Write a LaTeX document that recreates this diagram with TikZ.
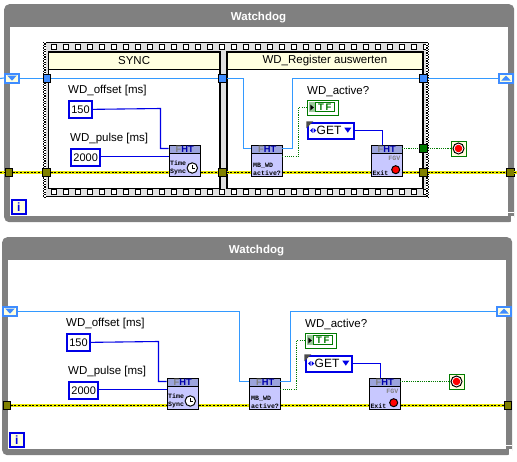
\documentclass[tikz,border=0pt]{standalone}
\usepackage{fontspec}
\setmainfont{Liberation Sans}
\setmonofont{Liberation Mono}
\usetikzlibrary{positioning, calc}
\definecolor{loopgray}{HTML}{808080}
\definecolor{bandgray}{HTML}{E0E0E0}
\definecolor{paleyellow}{HTML}{FFFFE0}
\definecolor{refblue}{HTML}{3399FF}
\definecolor{tunnelblue}{HTML}{3F8CFF}
\definecolor{intblue}{HTML}{0000E6}
\definecolor{boolgreen}{HTML}{007A00}
\definecolor{errolive}{HTML}{808000}
\definecolor{erredge}{HTML}{5A5A00}
\definecolor{erryellow}{HTML}{E8E800}
\definecolor{iconbody}{HTML}{C8C8FF}
\definecolor{iconhead}{HTML}{9CA4DC}
\newcommand{\wdtext}{\fontsize{11.5}{12}\selectfont}

\tikzset{
    looprim/.style   = {rectangle, rounded corners=5pt, fill=loopgray, inner sep=0pt, anchor=north west},
    loopfield/.style = {rectangle, fill=white, inner sep=0pt, anchor=north west},
    looptitle/.style = {font=\fontsize{11.5}{12}\selectfont\bfseries, text=white, inner sep=0pt},
    filmband/.style  = {rectangle, fill=bandgray, inner sep=0pt, anchor=north west},
    filmhole/.style  = {rectangle, draw=black, fill=white, line width=1pt, minimum size=4.4pt, inner sep=0pt},
    filmedge/.style  = {draw=black, line width=1.3pt, dash pattern=on 1.3pt off 1.3pt},
    framefield/.style= {rectangle, draw=black, fill=white, line width=1.5pt, inner sep=0pt, anchor=north west},
    framehead/.style = {rectangle, draw=black, fill=paleyellow, line width=1.5pt, inner sep=0pt, anchor=north west,
                        font=\wdtext, minimum height=17.5pt},
    tunnel/.style    = {rectangle, draw=black, line width=0.6pt, minimum size=7.6pt, inner sep=0pt},
    shiftreg/.style  = {rectangle, draw=tunnelblue, fill=paleyellow, line width=2pt, minimum width=14pt,
                        minimum height=9pt, inner sep=0pt},
    wdlabel/.style   = {font=\wdtext, text=black, inner sep=0pt, anchor=west},
    intconst/.style  = {rectangle, draw=intblue, fill=white, line width=2pt, font=\fontsize{11}{12}\selectfont,
                        inner sep=0pt, minimum height=16.7pt, anchor=north west},
    enumconst/.style = {rectangle, draw=intblue, fill=white, line width=2pt, inner sep=0pt,
                        minimum width=45.4pt, minimum height=16pt, anchor=north west},
    boolind/.style   = {rectangle, draw=boolgreen, fill=white, line width=1pt, inner sep=0pt,
                        minimum width=31pt, minimum height=15pt, anchor=north west},
    stopbox/.style   = {rectangle, draw=boolgreen, fill=paleyellow, line width=1pt, inner sep=0pt,
                        minimum size=15pt, anchor=north west},
    itericon/.style  = {rectangle, draw=intblue, fill=paleyellow, line width=2pt, inner sep=0pt, minimum size=13.7pt,
                        font=\fontsize{12}{12}\selectfont\bfseries, text=intblue, anchor=north west},
    iconnode/.style  = {rectangle, draw=black, fill=iconbody, line width=0.9pt, inner sep=0pt,
                        minimum size=31pt, anchor=north west},
    iconhat/.style   = {rectangle, draw=black, fill=iconhead, line width=0.9pt, inner sep=0pt, minimum width=31pt,
                        minimum height=8pt, text=intblue!75!black, font=\fontsize{9.3}{9}\selectfont\bfseries,
                        anchor=north west},
    icontext/.style  = {font=\ttfamily\bfseries\fontsize{6.6}{8}\selectfont, align=left, inner sep=0pt, anchor=south west},
    refwire/.style   = {draw=refblue, line width=1.1pt},
    intwire/.style   = {draw=intblue, line width=1.1pt},
    boolwire/.style  = {draw=boolgreen, line width=1.1pt, dash pattern=on 1.1pt off 1.1pt},
    errwire/.style   = {draw=erredge, line width=3.8pt,
                        postaction={draw=erryellow, line width=2.6pt, solid},
                        postaction={draw=black, line width=1.8pt, dash pattern=on 2pt off 1.6pt}}
}

\begin{document}
\begin{tikzpicture}[x=1pt, y=-1pt]
  \useasboundingbox (0,0) rectangle (517,461);

  % ---- loop frames ----
  \foreach \p/\ox/\oy in {up/0/0, lo/-2/233} {
    \begin{scope}[shift={(\ox,\oy)}]
      \node[looprim, minimum width=510pt, minimum height=218pt] (\p rim) at (4,4) {};
      \node[loopfield, minimum width=498pt, minimum height=189pt] (\p field) at (10,27) {};
      \node[looptitle] (\p title) at (258.5,18) {Watchdog};
      \fill[white] (507,211.8) rectangle (514.2,213.2);
      \fill[white] (510.5,216) rectangle (514.2,222.2);
    \end{scope}
  }

  % ---- sequence structure ----
  \node[filmband, minimum width=385pt, minimum height=155pt] (seqband) at (43,42) {};
  \draw[black, line width=1pt] (43,42.5) -- (428,42.5);
  \draw[black, line width=1pt] (43,196.5) -- (428,196.5);
  \foreach \k in {0,...,31} {
    \node[filmhole] (holetop\k) at (53.8+12*\k,47) {};
    \node[filmhole] (holebot\k) at (53.8+12*\k,191.8) {};
  }
  \foreach \ex in {43,426.2} {
    \fill[white] (\ex,42) rectangle (\ex+2.8,197);
    \draw[filmedge] (\ex+0.7,42) -- (\ex+0.7,197);
    \draw[filmedge, dash phase=1.3pt] (\ex+2.1,42) -- (\ex+2.1,197);
  }
  \node[framefield, minimum width=171.3pt, minimum height=136.5pt] (syncframe) at (47.7,51.2) {};
  \node[framefield, minimum width=195.7pt, minimum height=136.5pt] (regframe) at (226.3,51.2) {};
  \node[framehead, minimum width=171.3pt] (synchead) at (47.7,51.2) {SYNC};
  \node[framehead, minimum width=195.7pt] (reghead) at (226.3,51.2) {WD\_Register auswerten};

  % ---- tunnels ----
  \node[tunnel, fill=tunnelblue] (upreg0) at (46.8,78.5) {};
  \node[tunnel, fill=tunnelblue] (upreg1) at (222.5,78.5) {};
  \node[tunnel, fill=tunnelblue] (upreg2) at (423.5,78.5) {};
  \node[tunnel, fill=errolive] (uperr0) at (8.7,172.5) {};
  \node[tunnel, fill=errolive] (uperr1) at (46.5,172.5) {};
  \node[tunnel, fill=errolive] (uperr2) at (222.5,172.5) {};
  \node[tunnel, fill=errolive] (uperr3) at (423.5,172.5) {};
  \node[tunnel, fill=errolive] (uperr4) at (510,172.5) {};
  \node[tunnel, fill=boolgreen] (upbool) at (423.5,148.5) {};
  \node[tunnel, fill=errolive] (loerr0) at (6.7,405.5) {};
  \node[tunnel, fill=errolive] (loerr4) at (507.8,405.5) {};
  \coordinate (upreffree) at (0,78.5);
  \coordinate (uperrfree) at (0,172.5);
  \coordinate (uperrend) at (517,172.5);

  % ---- contents shared by both loops ----
  \foreach \p/\ox/\oy in {up/0/0, lo/-2/233} {
    \begin{scope}[shift={(\ox,\oy)}]
      \node[wdlabel] (\p offsetlbl) at (68,91) {WD\_offset [ms]};
      \node[wdlabel] (\p pulselbl) at (70,138.5) {WD\_pulse [ms]};
      \node[wdlabel] (\p activelbl) at (307,91) {WD\_active?};
      \node[intconst, minimum width=22.4pt] (\p offset) at (68.3,100) {150};
      \node[intconst, minimum width=28.7pt] (\p pulse) at (70.3,148) {2000};
      \node[boolind] (\p ind) at (306.5,99.5) {};
      \node[enumconst] (\p enum) at (307.3,122.3) {};
      \node[stopbox] (\p stop) at (450.5,140.5) {};
      \node[itericon] (\p iter) at (11,199.3) {i};
      \node[iconnode] (\p sync) at (168.7,144.5) {};
      \node[iconnode] (\p wd) at (251.3,144.5) {};
      \node[iconnode] (\p fgv) at (370.8,144.5) {};
      \node[shiftreg] (\p srl) at (12,78) {};
      \node[shiftreg] (\p srr) at (506,78) {};
      \coordinate (\p syncin) at (168.7,148.5);
      \coordinate (\p wdin) at (251.3,148.5);
      \coordinate (\p wdout) at (282.3,148.5);
      \coordinate (\p wdbool) at (282.3,156.5);
      \coordinate (\p fgvout) at (401.8,148.5);
      \coordinate (\p fgvin) at (382.5,144.5);
      \coordinate (\p pulsein) at (168.7,156.5);

      % wires
      \draw[intwire] (\p offset.east) -- (160.5,108.5) |- (\p syncin);
      \draw[intwire] (\p pulse.east |- \p pulsein) -- (\p pulsein);
      \draw[intwire] (\p enum.east |- 0,130.5) -| (\p fgvin);
      \draw[boolwire] (\p wdbool) -| (298.5,107.5) -- (\p ind.west |- 0,107.5);
      \draw[errwire] (\p wd.east |- 0,172.5) -- (\p fgv.west |- 0,172.5);

      % FHT icons
      \node[iconhat] (\p synchat) at (\p sync.north west) {{\color{gray}F}HT};
      \node[iconhat] (\p wdhat) at (\p wd.north west) {{\color{gray}F}HT};
      \node[iconhat] (\p fgvhat) at (\p fgv.north west) {{\color{gray}F}HT};
      \node[icontext] (\p synctxt) at (170,175.3) {Time\\Sync};
      \node[circle, draw=black, fill=white, line width=1pt, minimum size=10.4pt, inner sep=0pt] (\p clock) at (192.3,168) {};
      \draw[black, line width=0.8pt] (\p clock.center) -- ++(0,-3.5);
      \draw[black, line width=0.8pt] (\p clock.center) -- ++(2.8,0);
      \node[icontext] (\p wdtxt) at (253,175.3) {MB\_WD\\active?};
      \node[icontext, text=gray, anchor=south east] (\p fgvtxt) at (400.5,160.5) {FGV};
      \node[icontext] (\p exit) at (372.3,175.3) {Exit};
      \node[circle, draw=black, fill=red, line width=1pt, minimum size=8pt, inner sep=0pt] (\p led) at (395.7,169.7) {};

      % stop terminal
      \node[circle, draw=black, fill=white, line width=1pt, minimum size=11pt, inner sep=0pt] (\p ring) at (\p stop.center) {};
      \node[circle, fill=red, minimum size=7.6pt, inner sep=0pt] (\p stopled) at (\p stop.center) {};

      % indicator and enum glyphs
      \fill[green!45!black!40] (308.7,101.7) rectangle (315.3,112.2);
      \fill[black] (310.3,104.5) -- (313.8,107.5) -- (310.3,110.5) -- cycle;
      \node[rectangle, draw=boolgreen, line width=1pt, minimum width=19pt, minimum height=9pt, inner sep=0pt,
            font=\fontsize{9.5}{9.5}\selectfont\bfseries, text=boolgreen] (\p tf) at (324.8,107.3) {T\,F};
      \fill[black!70] (306.3,121.3) -- (313.3,121.3) -- (306.3,128.3) -- cycle;
      \fill[intblue] (310,130.5) -- (312.7,128) -- (312.7,133) -- cycle;
      \fill[intblue] (316.3,130.5) -- (313.6,128) -- (313.6,133) -- cycle;
      \fill[intblue] (344.3,127.7) -- (351.3,127.7) -- (347.8,132.7) -- cycle;
      \node[font=\fontsize{12}{12}\selectfont, inner sep=0pt] (\p get) at (329,130.3) {GET};

      % shift register arrows
      \fill[tunnelblue] (\p srl.center) ++(-4.8,-2.4) -- ++(9.6,0) -- ++(-4.8,5) -- cycle;
      \fill[tunnelblue] (\p srr.center) ++(-4.8,2.6) -- ++(9.6,0) -- ++(-4.8,-5) -- cycle;
    \end{scope}
  }

  % ---- upper loop wires ----
  \draw[refwire] (upreffree) -- (upsrl.west);
  \draw[refwire] (upsrl.east |- upreg0) -- (upreg0.west);
  \draw[refwire] (upreg0.east) -- (upreg1.west);
  \draw[refwire] (upreg1.east) -- (243.5,78.5) |- (upwdin);
  \draw[refwire] (upwdout) -- (292.5,148.5) |- (upreg2.west);
  \draw[refwire] (upreg2.east) -- (upsrr.west |- upreg2);
  \draw[errwire] (uperrfree) -- (uperr0.west);
  \draw[errwire] (uperr0.east) -- (uperr1.west);
  \draw[errwire] (uperr1.east) -- (upsync.west |- uperr1);
  \draw[errwire] (upsync.east |- uperr2) -- (uperr2.west);
  \draw[errwire] (uperr2.east) -- (upwd.west |- uperr2);
  \draw[errwire] (upfgv.east |- uperr3) -- (uperr3.west);
  \draw[errwire] (uperr3.east) -- (uperr4.west);
  \draw[errwire] (uperr4.east) -- (uperrend);
  \draw[boolwire] (upfgvout) -- (upbool.west);
  \draw[boolwire] (upbool.east) -- (upstop.west |- upbool);

  % ---- lower loop wires ----
  \draw[refwire] (losrl.east |- 0,311.5) -- (239.5,311.5) |- (lowdin);
  \draw[refwire] (lowdout) -- (290.5,381.5) |- (losrr.west |- 0,311.5);
  \draw[errwire] (loerr0.east) -- (losync.west |- loerr0);
  \draw[errwire] (losync.east |- loerr0) -- (lowd.west |- loerr0);
  \draw[errwire] (lofgv.east |- loerr4) -- (loerr4.west);
  \draw[boolwire] (lofgvout) -- (lostop.west |- lofgvout);
\end{tikzpicture}
\end{document}
